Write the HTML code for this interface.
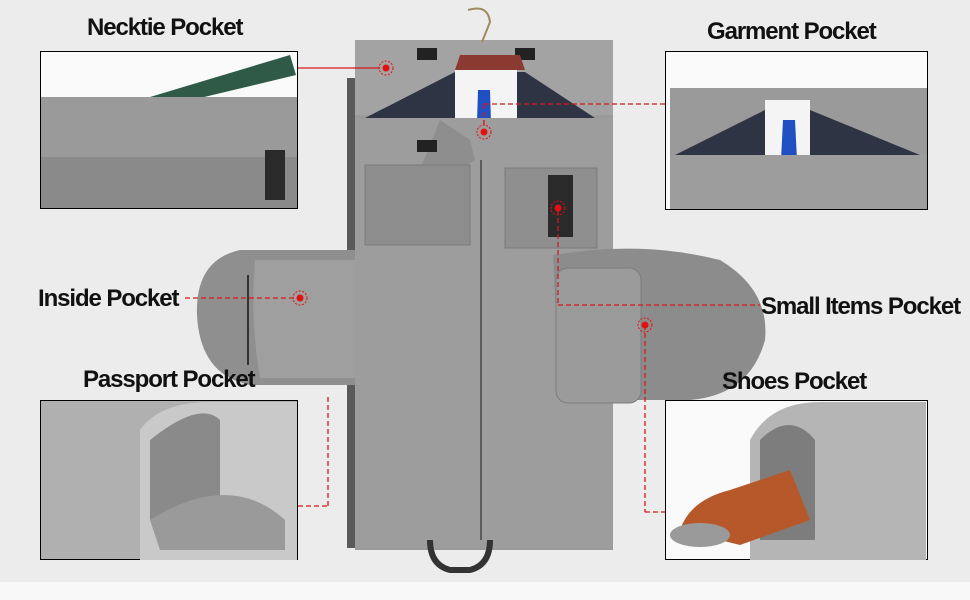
<!DOCTYPE html>
<html><head><meta charset="utf-8"><style>
html,body{margin:0;padding:0;background:#ececec;}
body{width:970px;height:600px;position:relative;overflow:hidden;font-family:"Liberation Sans",sans-serif;}
.l{position:absolute;font-weight:bold;font-size:24px;color:#111;letter-spacing:-1.1px;white-space:nowrap;}
</style></head><body>
<svg width="970" height="600" style="position:absolute;left:0;top:0">
<rect x="0" y="0" width="970" height="582" fill="#ececec"/>
<rect x="0" y="582" width="970" height="18" fill="#f8f8f8"/>
<rect x="347" y="78" width="266" height="470" fill="#5a5a5a"/>
<rect x="355" y="40" width="258" height="510" fill="#9a9a9a"/>
<rect x="355" y="40" width="258" height="75" fill="#a3a3a3"/>
<rect x="417" y="48" width="20" height="12" fill="#222"/>
<rect x="515" y="48" width="20" height="12" fill="#222"/>
<path d="M468 10 q20 -6 22 12 l-8 20" stroke="#a08a60" stroke-width="2" fill="none"/>
<polygon points="460,55 520,55 525,70 455,70" fill="#8a3a30"/>
<polygon points="365,118 455,72 525,72 595,118" fill="#2e3444"/>
<rect x="455" y="70" width="62" height="85" fill="#f4f4f4"/>
<polygon points="478,90 490,90 492,155 484,170 476,155" fill="#1f4fc0"/>
<rect x="355" y="118" width="258" height="430" fill="#9d9d9d"/>
<polygon points="440,120 470,140 475,160 440,180 420,170" fill="#8e8e8e"/>
<rect x="365" y="165" width="105" height="80" fill="#8d8d8d" stroke="#7a7a7a"/>
<rect x="505" y="168" width="92" height="80" fill="#8f8f8f" stroke="#7a7a7a"/>
<rect x="548" y="175" width="25" height="62" fill="#2a2a2a"/>
<rect x="417" y="140" width="20" height="12" fill="#222"/>
<rect x="480" y="160" width="2" height="380" fill="#5c5c5c"/>
<path d="M430 540 q0 25 20 30 l20 0 q20 -5 20 -30" stroke="#333" stroke-width="6" fill="none"/>
<path d="M355 250 L240 250 Q195 260 197 315 Q200 375 250 385 L355 385 Z" fill="#8f8f8f"/>
<path d="M355 260 L255 260 Q250 320 260 378 L355 378 Z" fill="#9f9f9f"/>
<line x1="248" y1="275" x2="248" y2="365" stroke="#333" stroke-width="2"/>
<path d="M553 255 Q640 240 720 260 Q770 290 765 340 Q750 395 690 400 L560 400 Z" fill="#8c8c8c"/>
<rect x="556" y="268" width="85" height="135" rx="12" fill="#9b9b9b" stroke="#7c7c7c"/>
<rect x="40.5" y="51.5" width="257" height="157" fill="#8a8a8a" stroke="#000"/>
<rect x="41" y="52" width="256" height="45" fill="#fafafa"/>
<polygon points="150,97 290,55 296,75 200,98" fill="#2f5a48"/>
<rect x="41" y="97" width="256" height="60" fill="#9a9a9a"/>
<rect x="265" y="150" width="20" height="50" fill="#2a2a2a"/>
<rect x="665.5" y="51.5" width="262" height="158" fill="#fafafa" stroke="#000"/>
<rect x="670" y="88" width="257" height="121" fill="#9a9a9a"/>
<polygon points="675,155 765,110 810,110 920,155" fill="#2e3444"/>
<rect x="765" y="100" width="45" height="55" fill="#f4f4f4"/>
<polygon points="783,120 795,120 797,160 789,165 781,160" fill="#1f4fc0"/>
<rect x="670" y="155" width="257" height="54" fill="#9d9d9d"/>
<rect x="40.5" y="400.5" width="257" height="159" fill="#b0b0b0" stroke="#000"/>
<path d="M140 560 L140 430 Q160 402 210 402 L297 402 L297 560 Z" fill="#c9c9c9"/>
<path d="M150 440 Q200 400 220 420 L220 500 L150 520 Z" fill="#8a8a8a"/>
<path d="M150 520 Q230 470 285 520 L285 550 L160 550 Z" fill="#9a9a9a"/>
<rect x="665.5" y="400.5" width="262" height="159" fill="#fafafa" stroke="#000"/>
<path d="M750 560 L750 440 Q770 402 820 402 L926 402 L926 560 Z" fill="#b5b5b5"/>
<path d="M760 440 Q790 410 815 440 L815 540 L760 540 Z" fill="#7d7d7d"/>
<path d="M680 530 Q690 500 730 490 L790 470 L810 520 L740 545 Z" fill="#b7582a"/>
<ellipse cx="700" cy="535" rx="30" ry="12" fill="#9a9a9a"/>
<g stroke="#d41818" stroke-width="1.3" fill="none">
<line x1="298" y1="68" x2="380" y2="68"/>
<line x1="484" y1="104" x2="665" y2="104" stroke-dasharray="5,3"/>
<line x1="484" y1="104" x2="484" y2="128" stroke-dasharray="5,3"/>
<line x1="185" y1="298" x2="300" y2="298" stroke-dasharray="5,3"/>
<line x1="558" y1="210" x2="558" y2="305" stroke-dasharray="5,3"/>
<line x1="558" y1="305" x2="760" y2="305" stroke-dasharray="5,3"/>
<line x1="645" y1="325" x2="645" y2="512" stroke-dasharray="5,3"/>
<line x1="645" y1="512" x2="665" y2="512" stroke-dasharray="5,3"/>
<line x1="298" y1="506" x2="328" y2="506" stroke-dasharray="5,3"/>
<line x1="328" y1="506" x2="328" y2="395" stroke-dasharray="5,3"/>
</g>
<g fill="#e31010">
<circle cx="386" cy="68" r="3.5"/><circle cx="484" cy="132" r="3.5"/><circle cx="300" cy="298" r="3.5"/>
<circle cx="558" cy="208" r="3.5"/><circle cx="645" cy="325" r="3.5"/>
</g>
<g stroke="#e31010" stroke-dasharray="2,1.5" fill="none">
<circle cx="386" cy="68" r="7"/><circle cx="484" cy="132" r="7"/><circle cx="300" cy="298" r="7"/>
<circle cx="558" cy="208" r="7"/><circle cx="645" cy="325" r="7"/>
</g>
</svg>
<div class="l" style="left:87px;top:14px">Necktie Pocket</div>
<div class="l" style="left:707px;top:18px">Garment Pocket</div>
<div class="l" style="left:38px;top:285px">Inside Pocket</div>
<div class="l" style="left:761px;top:293px">Small Items Pocket</div>
<div class="l" style="left:83px;top:366px">Passport Pocket</div>
<div class="l" style="left:722px;top:368px">Shoes Pocket</div>
</body></html>
